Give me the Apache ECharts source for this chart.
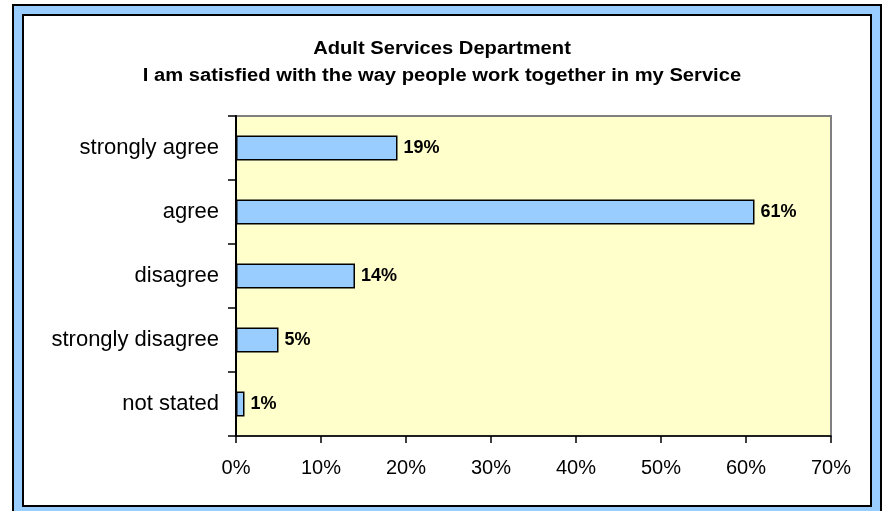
<!DOCTYPE html>
<html>
<head>
<meta charset="utf-8">
<script src="https://cdn.jsdelivr.net/npm/echarts@6/dist/echarts.min.js"></script>
<style>
  html, body { margin: 0; padding: 0; background: #ffffff; }
  #chart { width: 884px; height: 511px; }
</style>
</head>
<body>
<div id="chart"></div>
<script>
// Survey responses, top to bottom
const categories = ['strongly agree', 'agree', 'disagree', 'strongly disagree', 'not stated'];
const percentages = [19, 61, 14, 5, 1];
const xTicks = [0, 10, 20, 30, 40, 50, 60, 70];
const titleLines = ['Adult Services Department', 'I am satisfied with the way people work together in my Service'];

const chart = echarts.init(document.getElementById('chart'), null, { renderer: 'canvas' });

const FONT = 'Liberation Sans, Arial, sans-serif';

// Two-line heading, slightly widened
const titleGraphics = titleLines.map((line, i) => ({
  type: 'text',
  silent: true,
  x: 442,
  y: 49 + i * 27,
  scaleX: 1.12,
  style: {
    text: line,
    x: 0,
    y: 0,
    align: 'center',
    verticalAlign: 'middle',
    font: 'bold 18px ' + FONT,
    fill: '#000000'
  }
}));

chart.setOption({
  animation: false,
  backgroundColor: '#ffffff',
  graphic: [
    {
      type: 'rect', z: -10, silent: true,
      shape: { x: 13, y: 5, width: 868, height: 520 },
      style: { fill: '#99CCFF', stroke: '#000000', lineWidth: 2 }
    },
    {
      type: 'rect', z: -9, silent: true,
      shape: { x: 23, y: 15, width: 848, height: 491 },
      style: { fill: '#ffffff', stroke: '#000000', lineWidth: 2 }
    }
  ].concat(titleGraphics),
  grid: {
    left: 236,
    top: 116,
    width: 595,
    height: 320,
    show: true,
    backgroundColor: '#FFFFCC',
    borderColor: '#808080',
    borderWidth: 2
  },
  xAxis: {
    type: 'value',
    min: 0,
    max: 70,
    interval: 10,
    axisLine: { show: true, lineStyle: { color: '#000000', width: 1.5 } },
    axisTick: { show: true, length: 7, lineStyle: { color: '#000000', width: 1.5 } },
    splitLine: { show: false },
    axisLabel: {
      margin: 22,
      fontFamily: FONT,
      fontSize: 20,
      color: '#000000',
      formatter: v => xTicks.includes(v) ? v + '%' : ''
    }
  },
  yAxis: {
    type: 'category',
    data: categories,
    inverse: true,
    axisLine: { show: true, lineStyle: { color: '#000000', width: 2 } },
    axisTick: { show: true, length: 8, alignWithLabel: false, lineStyle: { color: '#000000', width: 1.5 } },
    axisLabel: {
      margin: 17,
      fontFamily: FONT,
      fontSize: 22,
      color: '#000000'
    }
  },
  series: [{
    type: 'bar',
    data: percentages,
    barWidth: 25,
    itemStyle: { color: '#99CCFF', borderColor: '#000000', borderWidth: 1.5 },
    label: {
      show: true,
      position: 'right',
      distance: 6,
      fontFamily: FONT,
      fontWeight: 'bold',
      fontSize: 18,
      color: '#000000',
      formatter: p => p.value + '%'
    }
  }]
});
</script>
</body>
</html>
